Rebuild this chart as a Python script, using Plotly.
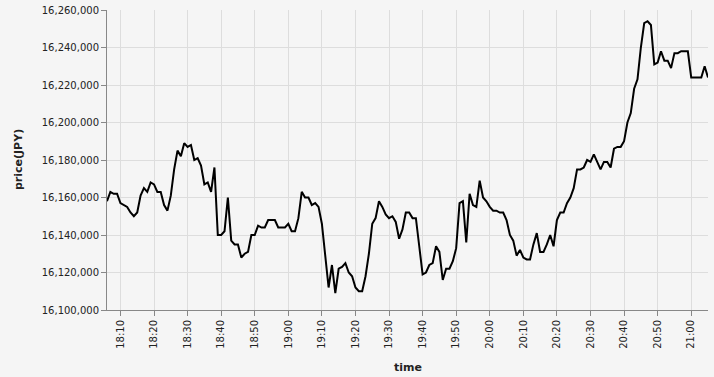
import plotly.graph_objects as go
import pandas as pd

start_time = "2024-01-01 18:06"
prices = [
    16158000, 16163000, 16162000, 16162000, 16157000, 16156000, 16155000, 16152000, 16150000, 16152000,
    16161000, 16165000, 16163000, 16168000, 16167000, 16163000, 16163000, 16156000, 16153000, 16161000,
    16175000, 16185000, 16182000, 16189000, 16187000, 16188000, 16180000, 16181000, 16177000, 16167000,
    16168000, 16163000, 16176000, 16140000, 16140000, 16142000, 16160000, 16137000, 16135000, 16135000,
    16128000, 16130000, 16131000, 16140000, 16140000, 16145000, 16144000, 16144000, 16148000, 16148000,
    16148000, 16144000, 16144000, 16144000, 16146000, 16142000, 16142000, 16149000, 16163000, 16160000,
    16160000, 16156000, 16157000, 16155000, 16146000, 16130000, 16112000, 16124000, 16109000, 16122000,
    16123000, 16125000, 16120000, 16118000, 16112000, 16110000, 16110000, 16118000, 16130000, 16146000,
    16149000, 16158000, 16155000, 16151000, 16149000, 16150000, 16147000, 16138000, 16143000, 16152000,
    16152000, 16149000, 16149000, 16134000, 16119000, 16120000, 16124000, 16125000, 16134000, 16131000,
    16116000, 16122000, 16122000, 16126000, 16133000, 16157000, 16158000, 16136000, 16162000, 16156000,
    16155000, 16169000, 16160000, 16158000, 16155000, 16153000, 16153000, 16152000, 16152000, 16148000,
    16140000, 16137000, 16129000, 16132000, 16128000, 16127000, 16127000, 16135000, 16141000, 16131000,
    16131000, 16135000, 16140000, 16134000, 16148000, 16152000, 16152000, 16157000, 16160000, 16165000,
    16175000, 16175000, 16176000, 16180000, 16179000, 16183000, 16179000, 16175000, 16179000, 16179000,
    16176000, 16186000, 16187000, 16187000, 16190000, 16200000, 16205000, 16218000, 16223000, 16240000,
    16253000, 16254000, 16252000, 16231000, 16232000, 16238000, 16233000, 16233000, 16229000, 16237000,
    16237000, 16238000, 16238000, 16238000, 16224000, 16224000, 16224000, 16224000, 16230000, 16224000,
]
times = [t.strftime("%Y-%m-%d %H:%M:%S") for t in
         pd.date_range(start_time, periods=len(prices), freq="1min")]

fig = go.Figure()
fig.add_trace(go.Scatter(x=times, y=prices, mode="lines",
                         line=dict(color="black", width=2), hoverinfo="skip"))

bg = "#f5f5f5"
fig.update_layout(
    width=714, height=377,
    margin=dict(l=107, r=6, t=10, b=67, autoexpand=False),
    paper_bgcolor=bg, plot_bgcolor=bg,
    font=dict(family="DejaVu Sans", size=10, color="#222"),
    showlegend=False,
    annotations=[
        dict(text="<b>time</b>", xref="paper", yref="paper", x=0.5, y=-0.19,
             xanchor="center", yanchor="middle", showarrow=False,
             font=dict(size=11, color="#222")),
        dict(text="<b>price(JPY)</b>", xref="paper", yref="paper", x=-0.148, y=0.5,
             xanchor="center", yanchor="middle", showarrow=False, textangle=-90,
             font=dict(size=11, color="#222")),
    ],
)
fig.update_xaxes(
    range=[times[0], times[-1]], automargin=False,
    tickformat="%H:%M", dtick=600000, tick0="2024-01-01 18:10:00",
    tickangle=-90, ticks="outside", ticklen=5, tickcolor="#888",
    showline=True, linecolor="#888", linewidth=1,
    showgrid=True, gridcolor="#dddddd", gridwidth=1,
    zeroline=False,
)
fig.update_yaxes(
    range=[16100000, 16260000], dtick=20000, tickformat=",d", automargin=False,
    ticks="outside", ticklen=5, tickcolor="#888",
    showline=True, linecolor="#888", linewidth=1,
    showgrid=True, gridcolor="#dddddd", gridwidth=1,
    zeroline=False,
)

fig.write_html("out.html", config={"displayModeBar": False},
               post_script="document.body.style.margin='0';document.body.style.background='#f5f5f5';")
